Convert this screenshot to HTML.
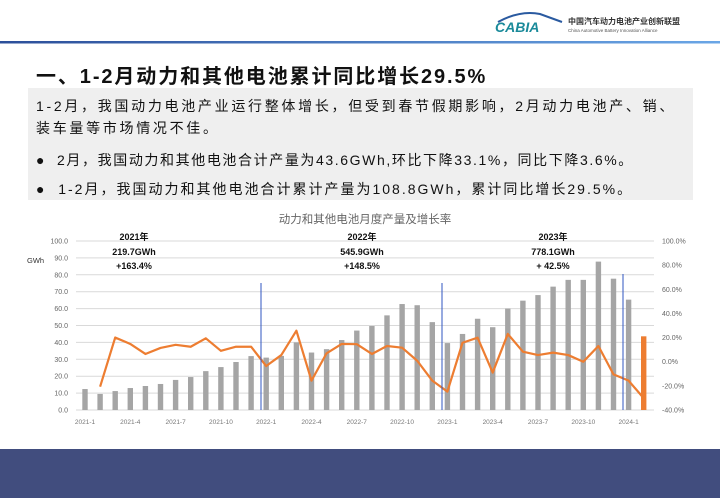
<!DOCTYPE html>
<html><head><meta charset="utf-8"><style>
body{margin:0;width:720px;height:498px;overflow:hidden;background:#fff;font-family:"Liberation Sans","Noto Sans CJK SC",sans-serif;position:relative}
.t{position:absolute;left:36px;top:60px;font-size:20px;font-weight:bold;color:#111;letter-spacing:1.9px}
.box{position:absolute;left:28px;top:88px;width:665px;height:112px;background:#efefef}
.p{position:absolute;left:36px;font-size:14px;color:#111;white-space:nowrap}
.foot{position:absolute;left:0;top:449px;width:720px;height:49px;background:#414d7e}
</style></head><body>
<svg width="720" height="50" style="position:absolute;left:0;top:0">
<defs><linearGradient id="g" x1="0" x2="1"><stop offset="0" stop-color="#2c4f9a"/><stop offset="1" stop-color="#6aa6e6"/></linearGradient></defs>
<rect x="0" y="41" width="720" height="2.5" fill="url(#g)"/>
<path d="M498 22 Q520 10 540 14 L562 22" stroke="#2a5aa0" stroke-width="2" fill="none"/>
<text x="495" y="32" font-size="14" font-style="italic" font-weight="bold" fill="#1a8a9a" font-family="Liberation Sans">CABIA</text>
<text x="568" y="24" font-size="8" font-weight="bold" fill="#333" font-family="Noto Sans CJK SC">中国汽车动力电池产业创新联盟</text>
<text x="568" y="32" font-size="4.5" fill="#555">China Automotive Battery Innovation Alliance</text>
</svg>
<div class="t">一、1-2月动力和其他电池累计同比增长29.5%</div>
<div class="box"></div>
<div class="p" style="top:96px;letter-spacing:2.7px">1-2月，我国动力电池产业运行整体增长，但受到春节假期影响，2月动力电池产、销、</div>
<div class="p" style="top:118px;letter-spacing:2.7px">装车量等市场情况不佳。</div>
<div class="p" style="top:150px;letter-spacing:1.6px">●&nbsp; 2月，我国动力和其他电池合计产量为43.6GWh,环比下降33.1%，同比下降3.6%。</div>
<div class="p" style="top:179px;letter-spacing:2px">●&nbsp; 1-2月，我国动力和其他电池合计累计产量为108.8GWh，累计同比增长29.5%。</div>
<svg id="c" width="720" height="240" style="position:absolute;left:0;top:208px"></svg>
<div class="foot"></div>
<script>
var s=document.getElementById('c'),h='',oy=208;
function Y(v){return 410-v*1.69-oy}
function R(p){return 361.7-p*1.207-oy}
for(var i=0;i<=10;i++){var y=Y(i*10);h+='<line x1="76" x2="654" y1="'+y+'" y2="'+y+'" stroke="#d9d9d9" stroke-width="1"/>';
h+='<text x="68" y="'+(y+2.5)+'" font-size="7" fill="#666" text-anchor="end">'+(i*10).toFixed(1)+'</text>';}
for(var i=0;i<8;i++){var p=100-i*20;h+='<text x="662" y="'+(R(p)+2.5)+'" font-size="7" fill="#666">'+p.toFixed(1)+'%</text>';}
h+='<text x="27" y="'+(263-oy)+'" font-size="7.5" fill="#333">GWh</text>';
var b=[12.4,9.5,11.2,13,14.2,15.4,17.8,19.5,23,25.4,28.4,31.9,31,32,40,34,36,41.4,47,49.7,56,62.7,62,52,39.6,45,54,49,60,64.7,68,73,77,77,87.8,77.7,65.3];
var l=[-20.7,20,14.7,6.4,11.4,14,12.4,19.4,9,12.4,12.4,-3.6,5.5,25.7,-15.7,7,14.7,14.5,6.4,13,11.6,0.8,-15.7,-24.8,15.7,19.9,-9,23,8.3,5.5,7.5,5.5,0,13,-10.5,-15.7,-30.3];
function X(i){return 85+i*15.1}
for(var i=0;i<b.length;i++)h+='<rect x="'+(X(i)-2.7)+'" y="'+Y(b[i])+'" width="5.4" height="'+(b[i]*1.69)+'" fill="#a5a5a5"/>';
h+='<rect x="'+(X(37)-2.7)+'" y="'+Y(43.6)+'" width="5.4" height="'+(43.6*1.69)+'" fill="#ed7d31"/>';
var pts=l.map(function(v,i){return X(i+1)+','+R(v)}).join(' ');
h+='<polyline points="'+pts+'" fill="none" stroke="#ed7d31" stroke-width="2.2" stroke-linejoin="round"/>';
[[261,283],[442,283],[623,274]].forEach(function(a){h+='<line x1="'+a[0]+'" x2="'+a[0]+'" y1="'+(a[1]-oy)+'" y2="'+(410-oy)+'" stroke="#2f55c2" stroke-width="1"/>'});
var lab=['2021-1','2021-4','2021-7','2021-10','2022-1','2022-4','2022-7','2022-10','2023-1','2023-4','2023-7','2023-10','2024-1'];
lab.forEach(function(t,i){h+='<text x="'+X(i*3)+'" y="'+(424-oy)+'" font-size="6.5" fill="#777" text-anchor="middle">'+t+'</text>'});
h+='<text x="365" y="'+(223-oy)+'" font-size="11.5" fill="#666" text-anchor="middle">动力和其他电池月度产量及增长率</text>';
[[134,'2021年','219.7GWh','+163.4%'],[362,'2022年','545.9GWh','+148.5%'],[553,'2023年','778.1GWh','+ 42.5%']].forEach(function(a){
h+='<g font-size="9" font-weight="bold" fill="#111" text-anchor="middle"><text x="'+a[0]+'" y="'+(240-oy)+'">'+a[1]+'</text><text x="'+a[0]+'" y="'+(255-oy)+'">'+a[2]+'</text><text x="'+a[0]+'" y="'+(269-oy)+'">'+a[3]+'</text></g>'});
s.innerHTML=h;
</script>
</body></html>
